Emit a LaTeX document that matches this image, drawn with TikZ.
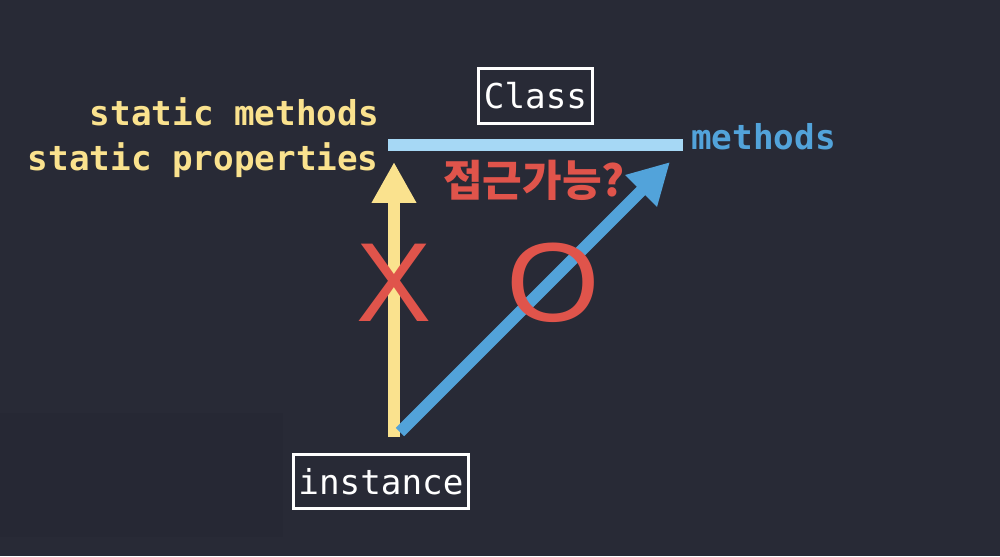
\documentclass[tikz,border=0pt]{standalone}
\usepackage{fontspec}
\setmonofont{DejaVu Sans Mono}
\newfontfamily\krfont{Noto Sans CJK KR}
\newfontfamily\markfont{Liberation Sans}
\usetikzlibrary{arrows.meta}
\definecolor{bgdark}{RGB}{40,42,54}
\definecolor{bgpatch}{RGB}{38,40,52}
\definecolor{statyellow}{RGB}{250,226,142}
\definecolor{methblue}{RGB}{82,163,218}
\definecolor{barblue}{RGB}{166,216,245}
\definecolor{markred}{RGB}{224,84,75}
\tikzset{
  codetext/.style={font=\ttfamily\fontsize{19.5}{19.5}\selectfont, inner sep=0pt},
  statictext/.style={codetext, font=\ttfamily\bfseries\fontsize{19.5}{19.5}\selectfont, text=statyellow, anchor=base east},
  codebox/.style={codetext, draw=white, text=white},
  bigmark/.style={font=\markfont\fontsize{64}{64}\selectfont, text=markred, inner sep=0pt},
  fatarrow/.style={line width=6.8pt, -{Triangle[length=23.25pt, width=23.8pt]}}
}
\begin{document}
\begin{tikzpicture}[x=0.02cm, y=-0.02cm]
\fill[bgdark] (0,0) rectangle (1000,556);
\fill[bgpatch] (0,413) rectangle (283,537);
\useasboundingbox (0,0) rectangle (1000,556);
% the class line
\coordinate (barL) at (388,145);
\coordinate (barR) at (683,145);
\draw[barblue, line width=6.8pt] (barL) -- (barR);
\node[codebox, line width=1.7pt, minimum width=64.6pt, minimum height=31.2pt] (class) at (535.5,96) {Class};
\node[codetext, font=\ttfamily\bfseries\fontsize{19.5}{19.5}\selectfont, text=methblue, anchor=base west] (meth) at (691,149) {methods};
\node[statictext] (smeth) at (379,125) {static methods};
\node[statictext] (sprop) at (379,170) {static properties};
% the instance and its two ways up
\node[codebox, line width=1.42pt, minimum width=99.5pt, minimum height=30.9pt] (inst) at (381,481.5) {instance};
\coordinate (yfoot) at (394,437);
\coordinate (ytip) at (394,162);
\coordinate (bfoot) at (400,432);
\coordinate (btip) at (670,162);
\draw[fatarrow, statyellow] (yfoot) -- (ytip);
\draw[fatarrow, methblue] (bfoot) -- (btip);
\node[font=\krfont\bfseries\fontsize{24.5}{24.5}\selectfont, text=markred, inner sep=0pt, anchor=base west] (ask) at (443,196) {접근가능?};
\node[bigmark] (no) at (394,283) {X};
\node[bigmark] (yes) at (553,283) {\scalebox{1.07}[1]{O}};
\end{tikzpicture}
\end{document}
